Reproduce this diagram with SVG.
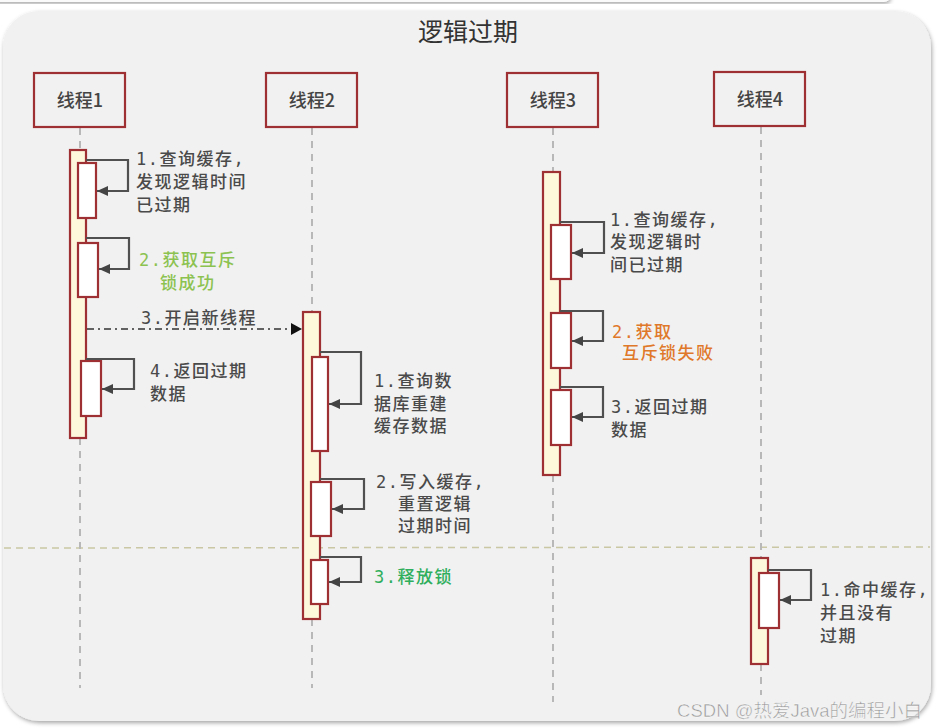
<svg xmlns="http://www.w3.org/2000/svg" width="937" height="728" viewBox="0 0 937 728">
<style>
.hdr{fill:none;stroke:#9e2f33;stroke-width:2.2}
.bar{fill:#fdf7dc;stroke:#9e2f33;stroke-width:2.2}
.act{fill:#ffffff;stroke:#9e2f33;stroke-width:2.2}
.life{stroke:#b8b8b8;stroke-width:2;stroke-dasharray:7,6;fill:none}
.loop{fill:none;stroke:#505050;stroke-width:2.2}
.t{font-family:"DejaVu Sans Mono","Noto Sans CJK SC",monospace;font-size:17px;font-weight:500;fill:#4a4a4a;letter-spacing:1.5px}
.h{font-family:"Noto Sans CJK SC","Noto Sans",sans-serif;font-size:18px;font-weight:500;fill:#444;text-anchor:middle}
.green{fill:#8cc250}
.teal{fill:#2fae5c}
.orange{fill:#e0782a}
</style>
<defs>
<marker id="ah" markerUnits="userSpaceOnUse" markerWidth="12" markerHeight="10" refX="11" refY="5" orient="auto">
<path d="M0,0 L11,5 L0,10 z" fill="#444"/>
</marker>
<marker id="ahk" markerUnits="userSpaceOnUse" markerWidth="12" markerHeight="12" refX="11" refY="6" orient="auto">
<path d="M0,0 L11,6 L0,12 z" fill="#111"/>
</marker>
<filter id="sh" x="-5%" y="-5%" width="110%" height="110%">
<feDropShadow dx="1" dy="2" stdDeviation="2" flood-color="#000" flood-opacity="0.35"/>
</filter>
</defs>
<rect x="0" y="0" width="937" height="728" fill="#ffffff"/>
<rect x="-20" y="-20" width="910" height="22" rx="6" fill="#fafafa" filter="url(#sh)"/>
<rect x="3" y="11" width="928" height="710" rx="36" fill="#f1f1f1" filter="url(#sh)"/>
<text x="468" y="41" font-family="Noto Sans CJK SC,sans-serif" font-size="25" fill="#333" text-anchor="middle">逻辑过期</text>
<line x1="4" y1="548" x2="930" y2="547" stroke="#c9c7a4" stroke-width="1.5" stroke-dasharray="7,5"/>

<g id="thread1">
<line class="life" x1="80" y1="128" x2="80" y2="150"/>
<line class="life" x1="80" y1="438" x2="80" y2="688"/>
<rect class="hdr" x="34" y="73" width="91" height="54"/>
<text class="h" x="80" y="107">线程1</text>
<rect class="bar" x="70" y="150" width="16" height="288"/>
<rect class="act" x="78" y="163" width="18" height="55"/>
<rect class="act" x="78" y="243" width="20" height="54"/>
<rect class="act" x="81" y="361" width="20" height="55"/>
</g>
<g id="thread2">
<line class="life" x1="312" y1="128" x2="312" y2="312"/>
<line class="life" x1="312" y1="619" x2="312" y2="688"/>
<rect class="hdr" x="266" y="73" width="91" height="54"/>
<text class="h" x="312" y="107">线程2</text>
<rect class="bar" x="303" y="312" width="17" height="307"/>
<rect class="act" x="312" y="357" width="16" height="94"/>
<rect class="act" x="311" y="482" width="20" height="54"/>
<rect class="act" x="311" y="560" width="17" height="44"/>
</g>
<g id="thread3">
<line class="life" x1="553" y1="128" x2="553" y2="172"/>
<line class="life" x1="553" y1="475" x2="553" y2="702"/>
<rect class="hdr" x="507" y="73" width="91" height="54"/>
<text class="h" x="553" y="107">线程3</text>
<rect class="bar" x="543" y="172" width="17" height="303"/>
<rect class="act" x="551" y="225" width="20" height="54"/>
<rect class="act" x="551" y="313" width="20" height="55"/>
<rect class="act" x="551" y="390" width="20" height="55"/>
</g>
<g id="thread4">
<line class="life" x1="761" y1="127" x2="761" y2="558"/>
<line class="life" x1="761" y1="664" x2="761" y2="695"/>
<rect class="hdr" x="714" y="72" width="91" height="54"/>
<text class="h" x="760" y="106">线程4</text>
<rect class="bar" x="751" y="558" width="17" height="106"/>
<rect class="act" x="759" y="573" width="20" height="55"/>
</g>

<g id="connectors">
<path class="loop" d="M86,160 H128 V191 H97" marker-end="url(#ah)"/>
<path class="loop" d="M86,238 H129 V269 H99" marker-end="url(#ah)"/>
<path class="loop" d="M86,359 H134 V389 H102" marker-end="url(#ah)"/>
<path d="M87,329 H302" stroke="#333" stroke-width="1.5" stroke-dasharray="7,4,2,4" fill="none" marker-end="url(#ahk)"/>
<path class="loop" d="M320,352 H361 V404 H329" marker-end="url(#ah)"/>
<path class="loop" d="M320,479 H364 V509 H332" marker-end="url(#ah)"/>
<path class="loop" d="M320,557 H361 V582 H329" marker-end="url(#ah)"/>
<path class="loop" d="M560,222 H604 V253 H572" marker-end="url(#ah)"/>
<path class="loop" d="M560,311 H603 V341 H572" marker-end="url(#ah)"/>
<path class="loop" d="M560,387 H603 V417 H572" marker-end="url(#ah)"/>
<path class="loop" d="M768,570 H811 V600 H780" marker-end="url(#ah)"/>
</g>

<g id="labels">
<text class="t" x="136" y="165">1.查询缓存,</text>
<text class="t" x="136" y="188">发现逻辑时间</text>
<text class="t" x="136" y="211">已过期</text>
<text class="t green" x="139" y="266">2.获取互斥</text>
<text class="t green" x="160" y="289">锁成功</text>
<text class="t" x="141" y="324">3.开启新线程</text>
<text class="t" x="150" y="377">4.返回过期</text>
<text class="t" x="150" y="400">数据</text>

<text class="t" x="374" y="387">1.查询数</text>
<text class="t" x="374" y="410">据库重建</text>
<text class="t" x="374" y="432">缓存数据</text>
<text class="t" x="376" y="488">2.写入缓存,</text>
<text class="t" x="398" y="510">重置逻辑</text>
<text class="t" x="398" y="532">过期时间</text>
<text class="t teal" x="374" y="583">3.释放锁</text>

<text class="t" x="610" y="226">1.查询缓存,</text>
<text class="t" x="610" y="248">发现逻辑时</text>
<text class="t" x="610" y="271">间已过期</text>
<text class="t orange" x="612" y="338">2.获取</text>
<text class="t orange" x="622" y="359">互斥锁失败</text>
<text class="t" x="611" y="413">3.返回过期</text>
<text class="t" x="611" y="436">数据</text>

<text class="t" x="820" y="596">1.命中缓存,</text>
<text class="t" x="820" y="619">并且没有</text>
<text class="t" x="820" y="642">过期</text>
</g>
<text x="922" y="717" font-family="Liberation Sans,Noto Sans CJK SC,sans-serif" font-size="18.5" fill="#9a9a9a" stroke="#ffffff" stroke-width="0.4" text-anchor="end">CSDN @热爱Java的编程小白</text>
</svg>
